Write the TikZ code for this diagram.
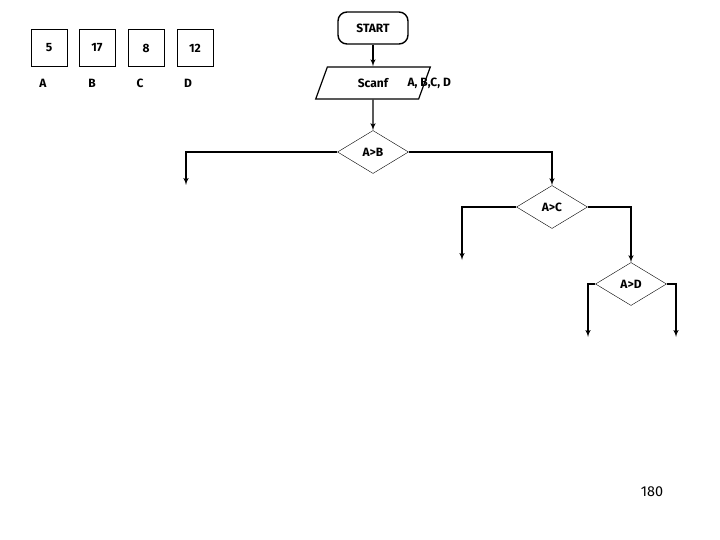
\documentclass[tikz,border=0pt]{standalone}
\usepackage{fontspec}
\setmainfont{Fira Sans}
\usetikzlibrary{shapes,arrows}
\begin{document}
\begin{tikzpicture}[>=latex', x=1pt, y=-1pt, font=\bfseries\large,
  var/.style={draw, thin, minimum width=36pt, minimum height=37pt},
  cond/.style={draw, thin, diamond, aspect=1.65, minimum width=71pt, minimum height=43pt, inner sep=0pt},
  flow/.style={line width=1.4pt}]
\useasboundingbox (0,0) rectangle (720,540);
% variables
\node[var] (va) at (49,48) {5};
\node[var] (vb) at (97,48) {17};
\node[var] (vc) at (146,48) {8};
\node[var] (vd) at (195,48) {12};
\node (la) at (43,83) {A};
\node (lb) at (92,83) {B};
\node (lc) at (140,83) {C};
\node (ld) at (188,83) {D};
% flow chart
\node[draw, line width=1.4pt, rounded corners=9pt, minimum width=70pt, minimum height=32pt] (start) at (373,28) {START};
\node[draw, line width=1.2pt, trapezium, trapezium left angle=70, trapezium right angle=110, minimum width=72pt, minimum height=32pt, inner sep=1pt] (scan) at (373,83) {Scanf};
\node[anchor=west] (vars) at (404,83) {A, B,C, D};
\node[cond] (ab) at (373,152) {A>B};
\node[cond] (ac) at (552,207) {A>C};
\node[cond] (ad) at (631,284) {A>D};
\coordinate (ab1) at (186,185);
\coordinate (ac1) at (462,260);
\coordinate (ad1) at (588,337);
\coordinate (ad2) at (676,337);
\draw[flow,->] (start) -- (scan);
\draw[flow,->] (scan) -- (ab);
\draw[flow,->] (ab.west) -| (ab1);
\draw[flow,->] (ab.east) -| (ac.north);
\draw[flow,->] (ac.west) -| (ac1);
\draw[flow,->] (ac.east) -| (ad.north);
\draw[flow,->] (ad.west) -| (ad1);
\draw[flow,->] (ad.east) -| (ad2);
\node[font=\Large] (page) at (652,492) {180};
\end{tikzpicture}
\end{document}
